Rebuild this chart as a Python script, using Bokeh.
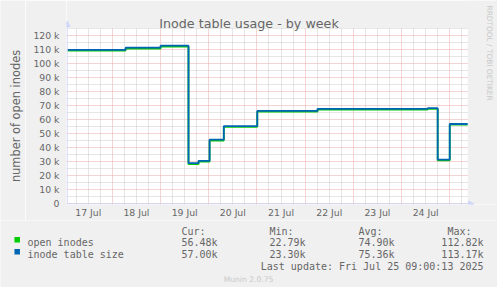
import math
import pandas as pd
from bokeh.plotting import figure
from bokeh.layouts import column, row
from bokeh.models import (Range1d, FixedTicker, ColumnDataSource, Label, BoxAnnotation,
                          Arrow, NormalHead)
from bokeh.core.properties import value
from bokeh.embed import file_html
from bokeh.resources import INLINE

# ---------------- data ----------------
times = ["2025-07-17 01:40", "2025-07-18 06:35", "2025-07-19 00:00", "2025-07-19 13:55",
         "2025-07-19 18:55", "2025-07-20 00:25", "2025-07-20 07:30", "2025-07-21 00:10",
         "2025-07-22 06:10", "2025-07-24 13:00", "2025-07-24 18:00", "2025-07-25 00:00",
         "2025-07-25 09:00"]
inode_table_size = [110000, 111500, 112900, 29000, 30700, 45800, 55500, 66300,
                    67800, 68300, 31600, 57000, 57000]
open_inodes = [109500, 110800, 112300, 28300, 30200, 45200, 55000, 65800,
               67300, 67800, 31000, 56480, 56480]

y_ticks = [0, 10000, 20000, 30000, 40000, 50000, 60000, 70000, 80000, 90000,
           100000, 110000, 120000]
y_tick_labels = ["0", "10 k", "20 k", "30 k", "40 k", "50 k", "60 k", "70 k", "80 k",
                 "90 k", "100 k", "110 k", "120 k"]
day_labels = ["17 Jul", "18 Jul", "19 Jul", "20 Jul", "21 Jul", "22 Jul", "23 Jul", "24 Jul"]
day_noons = ["2025-07-17 12:00", "2025-07-18 12:00", "2025-07-19 12:00", "2025-07-20 12:00",
             "2025-07-21 12:00", "2025-07-22 12:00", "2025-07-23 12:00", "2025-07-24 12:00"]

series_names = ["open inodes", "inode table size"]
series_colors = ["#00CC00", "#0066B3"]
col_headers = ["Cur:", "Min:", "Avg:", "Max:"]
cur_vals = ["56.48k", "57.00k"]
min_vals = ["22.79k", "23.30k"]
avg_vals = ["74.90k", "75.36k"]
max_vals = ["112.82k", "113.17k"]
last_update = "Last update: Fri Jul 25 09:00:13 2025"
title_text = "Inode table usage - by week"
y_label = "number of open inodes"
watermark = "RRDTOOL / TOBI OETIKER"
footer = "Munin 2.0.75"

# ---------------- layout constants (canvas pixels) ----------------
W = 497
TOP_H = 220
BOT_H = 287 - TOP_H
YL_W = 25                          # narrow strip holding the y axis title
F_LEFT, F_BOTTOM = 66, 204          # frame of the main figure: x 66..497, y 0..204
PLOT_L, PLOT_R, PLOT_T, PLOT_B = 67.0, 467.3, 27.7, 203.3   # rrdtool canvas area
FONT = "DejaVu Sans"
MONO = "DejaVu Sans Mono"
FC = "#666666"
AXC = "#CFD6F8"
GRID_C = "#CDCDCD"
MGRID_C = "#EAA8A8"
BG = "#F0F0F0"

x_start = pd.Timestamp("2025-07-17 01:40")
x_end = pd.Timestamp("2025-07-25 09:00")
y_top = 125200
px_t = (x_end - x_start) / (PLOT_R - PLOT_L)          # time per pixel
px_y = y_top / (PLOT_B - 28.0)                        # value per pixel
x_range = Range1d(x_start - (PLOT_L - F_LEFT) * px_t, x_end + (W - PLOT_R) * px_t)
y_range = Range1d(-(F_BOTTOM - PLOT_B) * px_y, PLOT_B * px_y)

p = figure(width=W - YL_W, height=TOP_H, output_backend="svg", toolbar_location=None,
           x_axis_type="datetime", x_range=x_range, y_range=y_range,
           min_border_left=F_LEFT - YL_W, min_border_right=0, min_border_top=0,
           min_border_bottom=TOP_H - F_BOTTOM)
p.frame_align = False
p.border_fill_color = BG
p.background_fill_color = "#FFFFFF"
p.outline_line_color = None


def sx(x):
    return x - F_LEFT


def sy(y):
    return F_BOTTOM - y


# y axis
p.yaxis.ticker = FixedTicker(ticks=y_ticks, minor_ticks=[v + 5000 for v in y_ticks])
p.yaxis.major_label_overrides = {v: s for v, s in zip(y_ticks, y_tick_labels)}
p.yaxis.major_label_text_font = FONT
p.yaxis.major_label_text_font_size = "9.3px"
p.yaxis.major_label_text_color = FC
p.yaxis.major_label_standoff = 7

# x axis
noon_ms = [ts.value / 1e6 for ts in pd.to_datetime(day_noons)]
p.xaxis.ticker = FixedTicker(ticks=noon_ms)
p.xaxis.major_label_overrides = {v: s for v, s in zip(noon_ms, day_labels)}
p.xaxis.major_label_text_font = FONT
p.xaxis.major_label_text_font_size = "9.3px"
p.xaxis.major_label_text_color = FC
p.xaxis.major_label_standoff = 2

for ax in (p.xaxis, p.yaxis):
    ax.axis_line_color = None
    ax.major_tick_line_color = None
    ax.minor_tick_line_color = None
    ax.major_tick_out = 0
    ax.major_tick_in = 0
    ax.minor_tick_out = 0
    ax.minor_tick_in = 0

# grids
midnights = pd.date_range("2025-07-17 00:00", "2025-07-25 00:00", freq="1D")
six_hours = pd.date_range("2025-07-17 06:00", "2025-07-25 06:00", freq="6h")
p.xgrid.ticker = FixedTicker(ticks=[ts.value / 1e6 for ts in midnights],
                             minor_ticks=[ts.value / 1e6 for ts in six_hours if ts.hour != 0])
p.ygrid.ticker = FixedTicker(ticks=y_ticks, minor_ticks=[v + 5000 for v in y_ticks])
for g in (p.xgrid, p.ygrid):
    g.grid_line_color = MGRID_C
    g.grid_line_dash = "1 1"
    g.grid_line_width = 1
    g.minor_grid_line_color = GRID_C
    g.minor_grid_line_dash = "1 1"
    g.minor_grid_line_width = 1

# data lines
src = ColumnDataSource(dict(t=pd.to_datetime(times), size=inode_table_size, open=open_inodes))
p.step("t", "open", source=src, mode="after", line_color=series_colors[0], line_width=1.8)
p.step("t", "size", source=src, mode="after", line_color=series_colors[1], line_width=1.8)

# background outside the rrdtool canvas (top strip and right strip)
for l, r, t, b in [(F_LEFT, W, 0, PLOT_T), (PLOT_R, W, 0, F_BOTTOM)]:
    p.add_layout(BoxAnnotation(left=sx(l), right=sx(r), top=sy(t), bottom=sy(b),
                               left_units="screen", right_units="screen",
                               top_units="screen", bottom_units="screen",
                               fill_color=BG, fill_alpha=1, line_color=None,
                               level="annotation"))

# axes lines with arrows (rrdtool style)
p.add_layout(Arrow(x_start=sx(PLOT_L - 0.3), y_start=sy(PLOT_B), x_end=sx(PLOT_L - 0.3),
                   y_end=sy(20.5), start_units="screen", end_units="screen",
                   line_color=AXC, line_width=1,
                   end=NormalHead(size=5.5, fill_color=AXC, line_color=AXC, line_width=1)))
p.add_layout(Arrow(x_start=sx(PLOT_L - 0.3), y_start=sy(PLOT_B), x_end=sx(473.5),
                   y_end=sy(PLOT_B), start_units="screen", end_units="screen",
                   line_color=AXC, line_width=1,
                   end=NormalHead(size=5.5, fill_color=AXC, line_color=AXC, line_width=1)))

# title and watermark
p.add_layout(Label(x=sx(248.5), y=sy(23.3), x_units="screen", y_units="screen",
                   text=title_text, text_font=FONT, text_font_size="12.7px",
                   text_color=FC, text_align="center", text_baseline="alphabetic"))
p.add_layout(Label(x=sx(488.5), y=sy(5), x_units="screen", y_units="screen",
                   text=watermark, text_font=FONT, text_font_size="7.4px",
                   text_color="#C8C8C8", text_align="left", text_baseline="middle",
                   angle=-math.pi / 2))

# ---------------- y axis title strip ----------------
yl = figure(width=YL_W, height=TOP_H, output_backend="svg", toolbar_location=None,
            x_range=Range1d(0, YL_W), y_range=Range1d(0, TOP_H),
            min_border_left=0, min_border_right=0, min_border_top=0, min_border_bottom=0,
            x_axis_location=None, y_axis_location=None)
yl.frame_align = False
yl.border_fill_color = BG
yl.background_fill_color = BG
yl.outline_line_color = None
yl.grid.visible = False
yl.text(x=[15.6], y=[TOP_H - 115.5], text=[y_label], angle=math.pi / 2,
        text_font=value(FONT), text_font_size="11.4px", text_color=FC,
        text_align="center", text_baseline="alphabetic")

# ---------------- legend / footer panel ----------------
q = figure(width=W, height=BOT_H, output_backend="svg", toolbar_location=None,
           x_range=Range1d(0, W), y_range=Range1d(BOT_H, 0),
           min_border_left=0, min_border_right=0, min_border_top=0, min_border_bottom=0,
           x_axis_location=None, y_axis_location=None)
q.frame_align = False
q.border_fill_color = BG
q.background_fill_color = BG
q.outline_line_color = None
q.grid.visible = False

Y0 = TOP_H  # canvas y of this panel's top
hdr_x = [181, 269, 358, 447]
val_right = [217, 305, 394, 483]
rows_y = [242, 254]

q.text(x=hdr_x, y=[230.5 - Y0] * 4, text=col_headers, text_font=value(MONO),
       text_font_size="10px", text_color=FC, text_baseline="alphabetic")
for i in range(2):
    y = rows_y[i] - Y0
    q.rect(x=[16.7], y=[y - 2.7], width=5.5, height=5.5, fill_color=series_colors[i],
           line_color=None)
    q.text(x=[27], y=[y], text=[series_names[i]], text_font=value(MONO),
           text_font_size="10px", text_color=FC, text_baseline="alphabetic")
    q.text(x=val_right, y=[y] * 4,
           text=[cur_vals[i], min_vals[i], avg_vals[i], max_vals[i]],
           text_font=value(MONO), text_font_size="10px", text_color=FC,
           text_align="right", text_baseline="alphabetic")
q.text(x=[483], y=[266 - Y0], text=[last_update], text_font=value(MONO),
       text_font_size="10px", text_color=FC, text_align="right", text_baseline="alphabetic")
q.text(x=[248], y=[278.7 - Y0], text=[footer], text_font=value(FONT),
       text_font_size="7.6px", text_color="#C8C8C8", text_align="center",
       text_baseline="alphabetic")

layout = column(row(yl, p, spacing=0), q, spacing=0)
open("out.html", "w").write(file_html(layout, INLINE))
